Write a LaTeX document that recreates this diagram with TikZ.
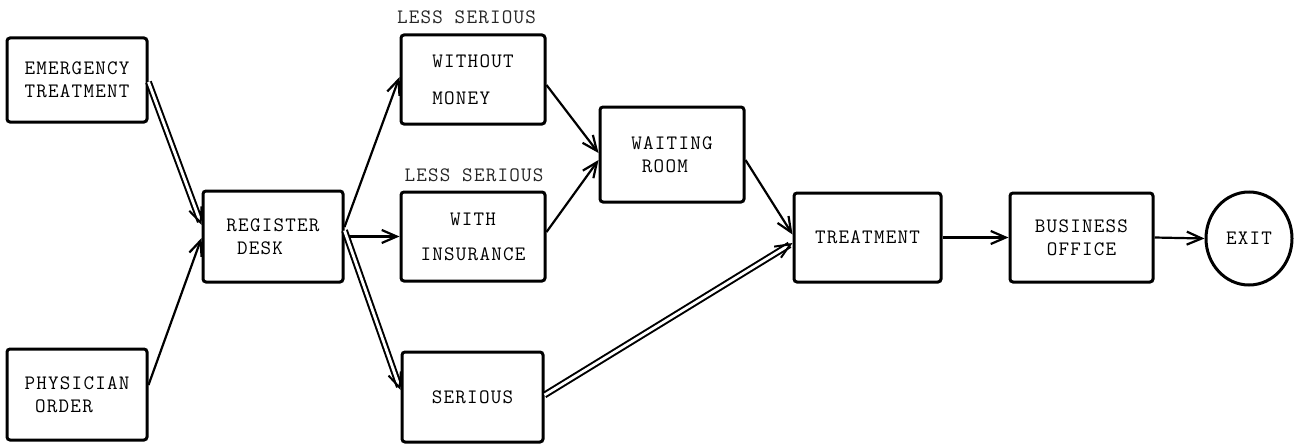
\documentclass[tikz,border=0pt]{standalone}
\usepackage{fontspec}
\newfontfamily\tw{Latin Modern Mono}[LetterSpace=6]
\usetikzlibrary{arrows.meta,calc,shapes.geometric}
\begin{document}
\begin{tikzpicture}[x=1pt,y=-1pt,
  txt/.style={font=\tw\fontsize{20.5}{23}\selectfont},
  box/.style={txt,draw,line width=3pt,rounded corners=3pt,inner sep=0pt},
  lbl/.style={txt,inner sep=0pt,text=black!85},
  arr/.style={line width=2.2pt,-{Straight Barb[length=15pt,width=13pt,line width=2.2pt]}},
  dbl/.style={double,double distance=2.8pt,line width=2pt,-{Straight Barb[length=15pt,width=13pt,line width=2pt]}}
]
\useasboundingbox (0,0) rectangle (1300,444);
% nodes
\node[box,minimum width=140pt,minimum height=84pt,align=left] (em) at (77,80) {EMERGENCY\\TREATMENT};
\node[box,minimum width=140pt,minimum height=91pt,align=left] (po) at (77,394.5) {PHYSICIAN\\\hphantom{X}ORDER};
\node[box,minimum width=140pt,minimum height=91pt,align=left] (reg) at (273,236.5) {REGISTER\\\hphantom{X}DESK};
\node[box,minimum width=144pt,minimum height=89pt,align=left] (wm) at (473,79.5) {WITHOUT\\[14pt]MONEY};
\node[box,minimum width=144pt,minimum height=89pt,align=center] (wi) at (473,236.5) {WITH\\[12pt]INSURANCE};
\node[box,minimum width=141pt,minimum height=90pt] (ser) at (472.5,397) {SERIOUS};
\node[box,minimum width=144pt,minimum height=95pt,align=left] (wr) at (672,154.5) {WAITING\\\hphantom{X}ROOM};
\node[box,minimum width=147pt,minimum height=89pt] (tr) at (867.5,237.5) {TREATMENT};
\node[box,minimum width=143pt,minimum height=89pt,align=center] (bo) at (1081.5,237.5) {BUSINESS\\OFFICE};
\node[box,ellipse,rounded corners=0pt,minimum width=86pt,minimum height=93pt] (ex) at (1249,238.5) {EXIT};
\node[lbl] (l1) at (466.5,17) {LESS SERIOUS};
\node[lbl] (l2) at (474,175) {LESS SERIOUS};
% connectors
\draw[dbl] ($(em.east)+(0,2)$) -- ($(reg.west)+(0,-11.5)$);
\draw[arr] ($(po.east)+(0,-9.5)$) -- ($(reg.west)+(0,1.5)$);
\draw[arr] ($(reg.east)+(0,-9.5)$) -- ($(wm.west)+(0,-2.5)$);
\draw[arr] (reg.east) -- (wi.west);
\draw[dbl] ($(reg.east)+(0,-6)$) -- ($(ser.west)+(0,-7)$);
\draw[arr] ($(wm.east)+(0,5.5)$) -- ($(wr.west)+(0,-1.5)$);
\draw[arr] ($(wi.east)+(0,-4.5)$) -- ($(wr.west)+(0,5.5)$);
\draw[arr] ($(wr.east)+(0,5.5)$) -- ($(tr.west)+(0,-3)$);
\draw[dbl] ($(ser.east)+(0,-2)$) -- ($(tr.west)+(0,5.5)$);
\draw[arr] (tr.east) -- (bo.west);
\draw[arr] (bo.east) -- (ex.west);
\end{tikzpicture}
\end{document}
